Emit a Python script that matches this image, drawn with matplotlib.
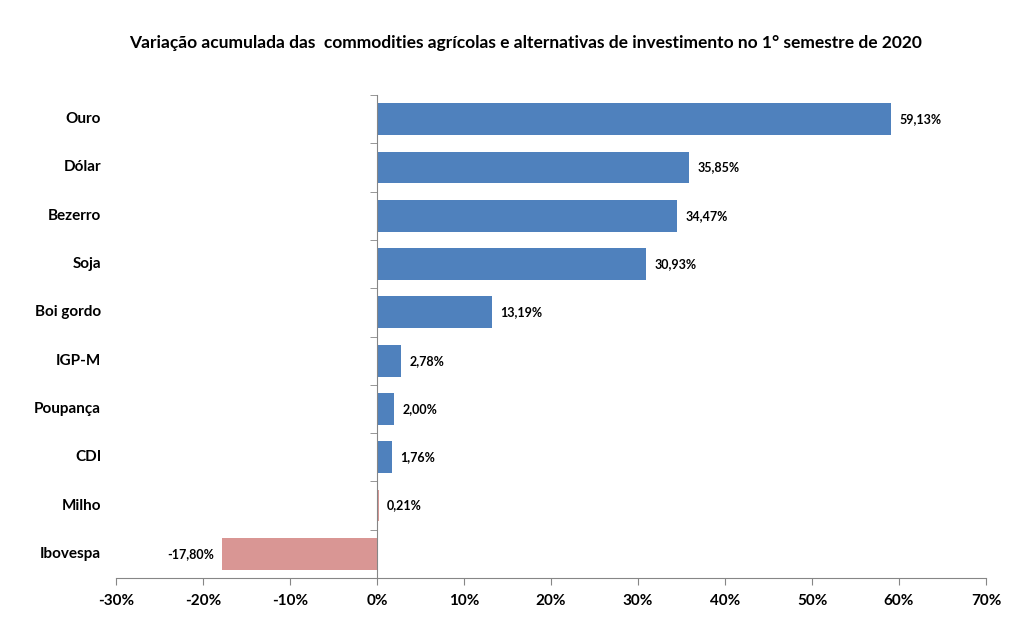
import matplotlib.pyplot as plt
import matplotlib.transforms as mtransforms
from matplotlib.ticker import FixedLocator

plt.rcParams['font.family'] = ['Lato', 'DejaVu Sans']

categorias = ['Ouro', 'Dólar', 'Bezerro', 'Soja', 'Boi gordo', 'IGP-M',
              'Poupança', 'CDI', 'Milho', 'Ibovespa']
variacao = [59.13, 35.85, 34.47, 30.93, 13.19, 2.78, 2.00, 1.76, 0.21, -17.80]
rotulos = ['59,13%', '35,85%', '34,47%', '30,93%', '13,19%', '2,78%',
           '2,00%', '1,76%', '0,21%', '-17,80%']
cores = ['#4F81BD'] * 8 + ['#D99694', '#D99694']
x_ticks = [-30, -20, -10, 0, 10, 20, 30, 40, 50, 60, 70]

fig = plt.figure(figsize=(10.14, 6.31), dpi=100)
ax = fig.add_axes([0.1144, 0.084, 0.858, 0.7654])

pos = list(range(len(categorias)))
ax.barh(pos, variacao, height=0.66, color=cores)
ax.set_ylim(len(categorias) - 0.5, -0.5)
ax.set_xlim(-30, 70)

# eixo vertical no zero
ax.spines['left'].set_position(('data', 0))
for s in ['top', 'right']:
    ax.spines[s].set_visible(False)
for s in ['left', 'bottom']:
    ax.spines[s].set_color('#868686')
ax.set_yticks(pos)
ax.tick_params(axis='y', which='major', length=0, labelleft=False)
ax.yaxis.set_minor_locator(FixedLocator([p - 0.5 for p in pos] + [len(pos) - 0.5]))
ax.tick_params(axis='y', which='minor', length=5, color='#868686')

trans = mtransforms.blended_transform_factory(ax.transAxes, ax.transData)
for p, c in zip(pos, categorias):
    ax.text(-0.017, p, c, transform=trans, ha='right', va='center',
            fontsize=11, fontweight='bold')

ax.set_xticks(x_ticks)
ax.set_xticklabels([f'{t}%' for t in x_ticks], fontsize=11, fontweight='bold')
ax.tick_params(axis='x', length=5, color='#868686', pad=6.5)

for p, v, r in zip(pos, variacao, rotulos):
    if v >= 0:
        ax.annotate(r, (v, p), xytext=(6, 0), textcoords='offset points',
                    ha='left', va='center', fontsize=9, fontweight='bold')
    else:
        ax.annotate(r, (v, p), xytext=(-6, 0), textcoords='offset points',
                    ha='right', va='center', fontsize=9, fontweight='bold')

fig.text(0.518, 0.932, 'Variação acumulada das  commodities agrícolas e alternativas de investimento no 1° semestre de 2020',
         ha='center', va='center', fontsize=12.5, fontweight='bold')

fig.savefig('out.png', dpi=100)
